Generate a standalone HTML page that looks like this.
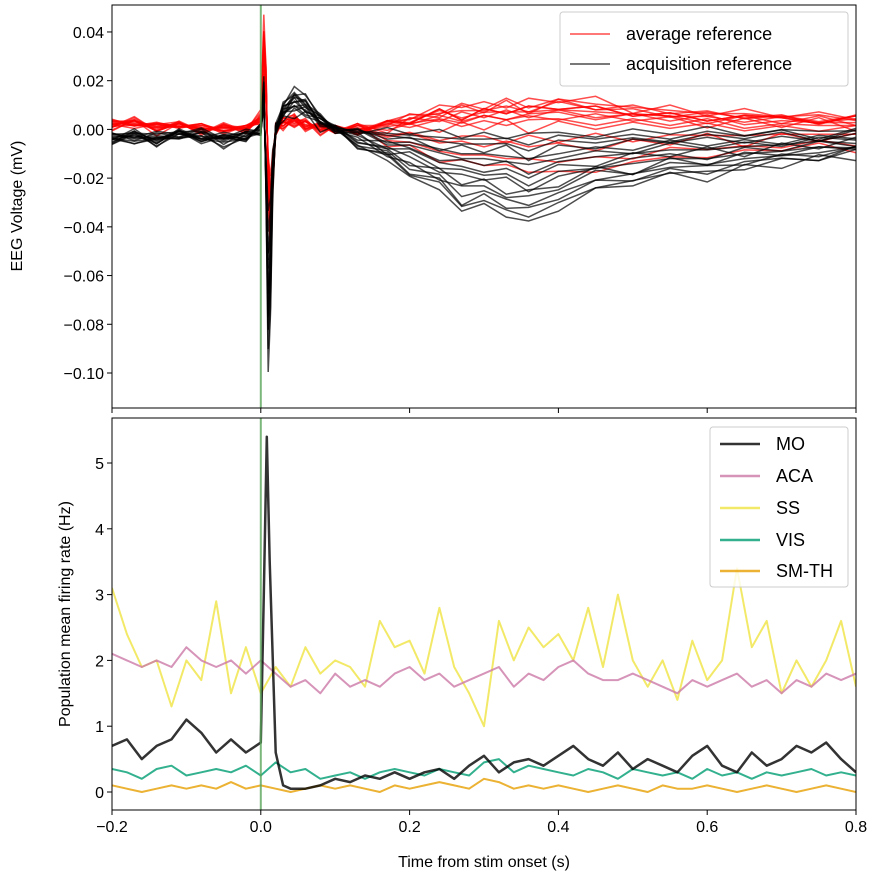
<!DOCTYPE html>
<html><head><meta charset="utf-8"><style>
html,body{margin:0;padding:0;background:#fff;}
svg{display:block;font-family:"Liberation Sans","DejaVu Sans",sans-serif;}
</style></head><body>
<svg id="chart" width="880" height="880"></svg>
<script>
// ---- EEG data ----
const eegTimes=[-0.2,-0.17,-0.14,-0.11,-0.08,-0.05,-0.02,0,0.004,0.007,0.01,0.013,0.016,0.02,0.03,0.045,0.06,0.08,0.1,0.13,0.17,0.2,0.24,0.27,0.3,0.33,0.36,0.4,0.45,0.5,0.55,0.6,0.65,0.7,0.75,0.8];
const redMean=[0.002,0.003,0.001,0.002,0.0,0.001,0.0,0.005,0.035,0.02,-0.02,-0.04,-0.02,0.0,0.003,0.004,0.002,0.001,0.0,0.0,0.002,0.004,0.006,0.007,0.007,0.008,0.008,0.009,0.008,0.007,0.006,0.005,0.005,0.004,0.004,0.004];
const blackMean=[-0.004,-0.003,-0.004,-0.002,-0.003,-0.004,-0.003,0.0,0.015,-0.02,-0.07,-0.055,-0.02,0.0,0.008,0.012,0.01,0.004,0.0,-0.004,-0.008,-0.012,-0.016,-0.02,-0.02,-0.022,-0.024,-0.02,-0.016,-0.014,-0.012,-0.012,-0.01,-0.009,-0.008,-0.006];
const noise=[0.001,-0.002,0.002,-0.001,0.003,-0.002,0.001,0,0,0,0,0,0,0.001,-0.002,0.002,-0.001,0.001,-0.002,0.002,-0.001,0.002,-0.003,0.002,-0.002,0.003,-0.004,0.002,-0.002,0.002,-0.001,0.002,-0.002,0.001,-0.002,0.001];
const redEarly=[1.0,0.8,1.2,0.6,0.9,1.1,0.7,1.3,0.5,1.0,0.85,1.15,0.65,0.95,0.75,1.05];
const redLate=[1.2,1.0,0.8,0.4,-0.5,1.3,0.9,-1.5,1.1,0.6,-0.8,1.4,0.2,1.0,-2.0,0.7];
const blackEarly=[1.0,0.9,1.2,0.7,1.4,0.8,1.1,0.6,1.3,0.95,0.5,1.05,0.85,1.15,0.75,1.0];
const blackLate=[1.0,1.3,0.6,0.2,1.6,0.8,1.1,0.4,1.4,0.9,0.1,1.2,0.7,1.5,0.5,0.3];
// ---- firing rate data ----
const frTimes=[-0.2,-0.18,-0.16,-0.14,-0.12,-0.1,-0.08,-0.06,-0.04,-0.02,0,0.02,0.04,0.06,0.08,0.1,0.12,0.14,0.16,0.18,0.2,0.22,0.24,0.26,0.28,0.3,0.32,0.34,0.36,0.38,0.4,0.42,0.44,0.46,0.48,0.5,0.52,0.54,0.56,0.58,0.6,0.62,0.64,0.66,0.68,0.7,0.72,0.74,0.76,0.78,0.8];
const ssRate=[3.1,2.4,1.9,2.0,1.3,2.0,1.7,2.9,1.5,2.2,1.5,1.9,1.6,2.2,1.8,2.0,1.9,1.6,2.6,2.2,2.3,1.8,2.8,1.9,1.5,1.0,2.6,2.0,2.5,2.2,2.4,2.0,2.8,1.9,3.0,2.0,1.6,2.0,1.4,2.3,1.7,2.0,3.4,2.2,2.6,1.5,2.0,1.6,2.0,2.6,1.6];
const acaRate=[2.1,2.0,1.9,2.0,1.9,2.2,2.0,1.9,2.0,1.8,2.0,1.8,1.6,1.7,1.5,1.8,1.6,1.7,1.6,1.8,1.9,1.7,1.8,1.6,1.7,1.8,1.9,1.6,1.8,1.7,1.9,2.0,1.8,1.7,1.7,1.8,1.7,1.6,1.5,1.7,1.6,1.7,1.8,1.6,1.7,1.5,1.7,1.6,1.8,1.7,1.8];
const visRate=[0.35,0.3,0.2,0.35,0.4,0.25,0.3,0.35,0.3,0.4,0.25,0.45,0.3,0.35,0.2,0.25,0.3,0.2,0.3,0.35,0.3,0.25,0.35,0.3,0.25,0.45,0.5,0.3,0.4,0.35,0.3,0.25,0.35,0.3,0.2,0.35,0.3,0.25,0.3,0.2,0.35,0.25,0.3,0.2,0.3,0.25,0.3,0.35,0.25,0.3,0.25];
const smthRate=[0.1,0.05,0.0,0.05,0.1,0.05,0.1,0.05,0.15,0.05,0.1,0.05,0.0,0.05,0.1,0.05,0.1,0.05,0.0,0.1,0.05,0.1,0.15,0.1,0.05,0.2,0.15,0.05,0.1,0.05,0.1,0.05,0.0,0.05,0.1,0.05,0.0,0.1,0.05,0.05,0.1,0.05,0.0,0.05,0.1,0.05,0.0,0.05,0.1,0.05,0.0];
const moTimes=[-0.2,-0.18,-0.16,-0.14,-0.12,-0.1,-0.08,-0.06,-0.04,-0.02,0,0.004,0.008,0.012,0.02,0.03,0.04,0.06,0.08,0.1,0.12,0.14,0.16,0.18,0.2,0.22,0.24,0.26,0.28,0.3,0.32,0.34,0.36,0.38,0.4,0.42,0.44,0.46,0.48,0.5,0.52,0.54,0.56,0.58,0.6,0.62,0.64,0.66,0.68,0.7,0.72,0.74,0.76,0.78,0.8];
const moRate=[0.7,0.8,0.5,0.7,0.8,1.1,0.9,0.6,0.8,0.6,0.75,3.0,5.4,3.5,0.6,0.1,0.05,0.05,0.1,0.2,0.15,0.25,0.2,0.3,0.2,0.3,0.35,0.2,0.4,0.55,0.3,0.45,0.5,0.4,0.55,0.7,0.5,0.4,0.6,0.35,0.5,0.4,0.3,0.55,0.7,0.4,0.3,0.6,0.4,0.5,0.7,0.6,0.75,0.5,0.3];
const xTicks=[-0.2,0.0,0.2,0.4,0.6,0.8];
const xTickLabels=["−0.2","0.0","0.2","0.4","0.6","0.8"];
const eegTicks=[0.04,0.02,0.0,-0.02,-0.04,-0.06,-0.08,-0.10];
const eegTickLabels=["0.04","0.02","0.00","−0.02","−0.04","−0.06","−0.08","−0.10"];
const frTicks=[0,1,2,3,4,5];

const NS="http://www.w3.org/2000/svg";
const svg=document.getElementById('chart');
function el(tag,attrs,parent){const e=document.createElementNS(NS,tag);for(const k in attrs)e.setAttribute(k,attrs[k]);(parent||svg).appendChild(e);return e;}
const L=112,R=856;
const x=t=>L+(t+0.2)/1.0*(R-L);
const yTop=v=>129.4-v*2436;
const yBot=v=>792-v*65.8;
const T1=5,B1=408,T2=418,B2=810;

// clip paths
const defs=el('defs',{});
const c1=el('clipPath',{id:'c1'},defs);el('rect',{x:L,y:T1,width:R-L,height:B1-T1},c1);
const c2=el('clipPath',{id:'c2'},defs);el('rect',{x:L,y:T2,width:R-L,height:B2-T2},c2);

function path(ts,vs,yf){return ts.map((t,i)=>(i?'L':'M')+x(t).toFixed(1)+','+yf(vs[i]).toFixed(1)).join('');}

// EEG traces
const g1=el('g',{'clip-path':'url(#c1)'});


function chan(mean,ge,gl,k){return mean.map((v,i)=>{const t=eegTimes[i];const g=t>0.09?gl:ge;return v*g+noise[(i+k*3)%noise.length]*0.8;});}
for(let k=0;k<redEarly.length;k++){
  const vs=chan(redMean,redEarly[k],redLate[k],k);
  const p=el('path',{d:path(eegTimes,vs,yTop),fill:'none',stroke:'#ff0000','stroke-width':1.5,'stroke-opacity':0.7},g1);
  
  
}
for(let k=0;k<blackEarly.length;k++){
  const vs=chan(blackMean,blackEarly[k],blackLate[k],k+5);
  const p=el('path',{d:path(eegTimes,vs,yTop),fill:'none',stroke:'#000','stroke-width':1.5,'stroke-opacity':0.7},g1);
  
  
}
el('line',{x1:x(0),x2:x(0),y1:T1,y2:B1,stroke:'#5aa55a','stroke-width':2,'stroke-opacity':0.8},g1);

// firing rates
const g2=el('g',{'clip-path':'url(#c2)'});


const series=[
 ['ss-line',frTimes,ssRate,'#f0e442',2],
 ['aca-line',frTimes,acaRate,'#cc79a7',2],
 ['vis-line',frTimes,visRate,'#009e73',2],
 ['smth-line',frTimes,smthRate,'#e69f00',2],
 ['mo-line',moTimes,moRate,'#000',2.5]];
series.forEach(s=>{const p=el('path',{d:path(s[1],s[2],yBot),fill:'none',stroke:s[3],'stroke-width':s[4],'stroke-opacity':0.8,'stroke-linejoin':'round'},g2);
 
 });
el('line',{x1:x(0),x2:x(0),y1:T2,y2:B2,stroke:'#5aa55a','stroke-width':2,'stroke-opacity':0.8},g2);

// axes frames
[[T1,B1,'eeg-axes-frame'],[T2,B2,'rate-axes-frame']].forEach(a=>{const r=el('rect',{x:L,y:a[0],width:R-L,height:a[1]-a[0],fill:'none',stroke:'#000','stroke-width':1});
 });

// x ticks
xTicks.forEach((t,i)=>{
 el('line',{x1:x(t),x2:x(t),y1:B1,y2:B1+5,stroke:'#000'});
 el('line',{x1:x(t),x2:x(t),y1:B2,y2:B2+5,stroke:'#000'});
 const tx=el('text',{x:x(t),y:B2+22,'text-anchor':'middle','font-size':16});tx.textContent=xTickLabels[i];
 
});
eegTicks.forEach((v,i)=>{
 el('line',{x1:L-5,x2:L,y1:yTop(v),y2:yTop(v),stroke:'#000'});
 const tx=el('text',{x:L-8,y:yTop(v)+6,'text-anchor':'end','font-size':16});tx.textContent=eegTickLabels[i];
 
});
frTicks.forEach(v=>{
 el('line',{x1:L-5,x2:L,y1:yBot(v),y2:yBot(v),stroke:'#000'});
 const tx=el('text',{x:L-8,y:yBot(v)+6,'text-anchor':'end','font-size':16});tx.textContent=String(v);
 
});
let t;
t=el('text',{x:484,y:867,'text-anchor':'middle','font-size':16});t.textContent='Time from stim onset (s)';

t=el('text',{x:0,y:0,'text-anchor':'middle','font-size':16,transform:'translate(22,206) rotate(-90)'});t.textContent='EEG Voltage (mV)';

t=el('text',{x:0,y:0,'text-anchor':'middle','font-size':16,transform:'translate(70,614) rotate(-90)'});t.textContent='Population mean firing rate (Hz)';


// legends
const lg1=el('g',{});

el('rect',{x:560,y:12,width:288,height:74,rx:3,fill:'#fff','fill-opacity':0.8,stroke:'#ccc'},lg1);
[['average reference','#ff0000',34],['acquisition reference','#000',64]].forEach(e=>{
 el('line',{x1:570,x2:610,y1:e[2],y2:e[2],stroke:e[1],'stroke-width':1.5,'stroke-opacity':0.7},lg1);
 const tx=el('text',{x:626,y:e[2]+6,'font-size':18},lg1);tx.textContent=e[0];
 
});
const lg2=el('g',{});

el('rect',{x:710,y:427,width:138,height:160,rx:3,fill:'#fff','fill-opacity':0.8,stroke:'#ccc'},lg2);
[['MO','#000',444],['ACA','#cc79a7',476],['SS','#f0e442',508],['VIS','#009e73',540],['SM-TH','#e69f00',571]].forEach(e=>{
 el('line',{x1:720,x2:760,y1:e[2],y2:e[2],stroke:e[1],'stroke-width':2.5,'stroke-opacity':0.8},lg2);
 const tx=el('text',{x:776,y:e[2]+6,'font-size':18},lg2);tx.textContent=e[0];
 
});
</script>
</body></html>
